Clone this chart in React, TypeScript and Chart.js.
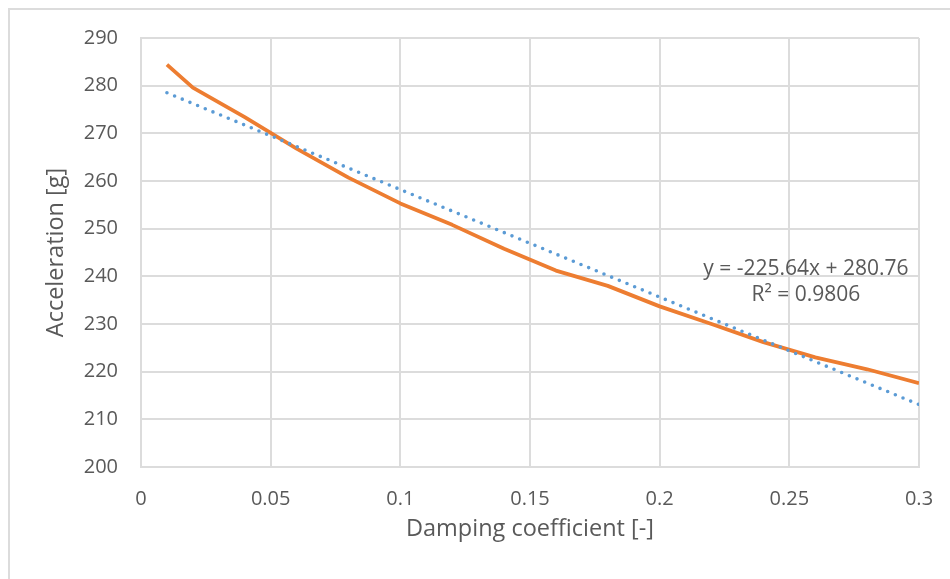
import React, { useEffect, useRef } from "react";
import { Chart, registerables } from "chart.js";

Chart.register(...registerables);

// ---- data ----
const dampingCoefficient = [0.01, 0.02, 0.04, 0.06, 0.08, 0.1, 0.12, 0.14, 0.16, 0.18, 0.2, 0.22, 0.24, 0.26, 0.28, 0.3];
const acceleration = [284.4, 279.6, 273.4, 266.8, 260.7, 255.3, 250.8, 245.8, 241.2, 238.0, 233.7, 230.0, 226.2, 223.0, 220.5, 217.6];
const trendX = [0.01, 0.3];
const trendY = [278.5, 213.1];
const xTicks = [0, 0.05, 0.1, 0.15, 0.2, 0.25, 0.3];
const xTickLabels = ["0", "0.05", "0.1", "0.15", "0.2", "0.25", "0.3"];
const yTicks = [200, 210, 220, 230, 240, 250, 260, 270, 280, 290];
const yTickLabels = ["200", "210", "220", "230", "240", "250", "260", "270", "280", "290"];
const equationLines = ["y = -225.64x + 280.76", "R\u00B2 = 0.9806"];
const xTitle = "Damping coefficient [-]";
const yTitle = "Acceleration [g]";

// ---- styles ----
const TEXT = "#595959";
const GRID = "#DCDCDC";
const FONT = "'Open Sans', sans-serif";
const EQ_ANCHOR = { x: 0.2564, y: 241.6 };

const equationPlugin = {
  id: "equationLabel",
  afterDatasetsDraw(chart: any) {
    const { ctx } = chart;
    const xs = chart.scales.x;
    const ys = chart.scales.y;
    const cx = xs.getPixelForValue(EQ_ANCHOR.x);
    const cy = ys.getPixelForValue(EQ_ANCHOR.y);
    ctx.save();
    ctx.font = `21px ${FONT}`;
    ctx.fillStyle = TEXT;
    ctx.textAlign = "center";
    ctx.textBaseline = "middle";
    equationLines.forEach((t, i) => ctx.fillText(t, cx, cy + i * 26));
    ctx.restore();
  },
};

const zeroPad = (s: any) => {
  s.paddingLeft = 0;
  s.paddingRight = 0;
  s.paddingTop = 0;
  s.paddingBottom = 0;
};

export default function App() {
  const ref = useRef<HTMLCanvasElement | null>(null);

  useEffect(() => {
    if (!ref.current) return;
    const chart = new Chart(ref.current, {
      type: "scatter",
      data: {
        datasets: [
          {
            label: "Linear trend",
            data: trendX.map((x, i) => ({ x, y: trendY[i] })),
            showLine: true,
            borderColor: "#5B9BD5",
            borderWidth: 3.6,
            borderDash: [0, 8.3],
            borderCapStyle: "round",
            pointRadius: 0,
            tension: 0,
            order: 0,
          },
          {
            label: "Acceleration",
            data: dampingCoefficient.map((x, i) => ({ x, y: acceleration[i] })),
            showLine: true,
            borderColor: "#ED7D31",
            borderWidth: 3.8,
            borderJoinStyle: "round",
            borderCapStyle: "butt",
            pointRadius: 0,
            tension: 0,
            order: 1,
          },
        ],
      },
      options: {
        animation: false,
        responsive: false,
        layout: { padding: { left: 0, top: 38, right: 31, bottom: 0 } },
        plugins: { legend: { display: false }, tooltip: { enabled: false } },
        scales: {
          x: {
            type: "linear",
            min: 0,
            max: 0.3,
            afterBuildTicks: (s: any) => {
              s.ticks = xTicks.map((v) => ({ value: v }));
            },
            afterFit: (s: any) => {
              s.height = 112;
              zeroPad(s);
            },
            ticks: {
              color: TEXT,
              font: { family: FONT, size: 20 },
              padding: 20,
              maxRotation: 0,
              callback: (v: any) => {
                const i = xTicks.findIndex((t) => Math.abs(t - Number(v)) < 1e-9);
                return i >= 0 ? xTickLabels[i] : "";
              },
            },
            grid: { color: GRID, lineWidth: 2, drawTicks: false },
            border: { color: GRID, width: 2 },
            title: {
              display: true,
              text: xTitle,
              color: TEXT,
              font: { family: FONT, size: 23.5 },
              padding: { top: 0, bottom: 36 },
            },
          },
          y: {
            type: "linear",
            min: 200,
            max: 290,
            afterBuildTicks: (s: any) => {
              s.ticks = yTicks.map((v) => ({ value: v }));
            },
            afterFit: (s: any) => {
              s.width = 141;
              zeroPad(s);
            },
            ticks: {
              color: TEXT,
              font: { family: FONT, size: 20 },
              padding: 23,
              callback: (v: any) => {
                const i = yTicks.findIndex((t) => Math.abs(t - Number(v)) < 1e-9);
                return i >= 0 ? yTickLabels[i] : "";
              },
            },
            grid: { color: GRID, lineWidth: 2, drawTicks: false },
            border: { color: GRID, width: 2 },
            title: {
              display: true,
              text: yTitle,
              color: TEXT,
              font: { family: FONT, size: 23.5 },
              padding: { top: 42, bottom: 0 },
            },
          },
        },
      },
      plugins: [equationPlugin],
    });
    return () => chart.destroy();
  }, []);

  return (
    <div
      style={{
        position: "fixed",
        left: 0,
        top: 0,
        width: 950,
        height: 579,
        background: "#fff",
        overflow: "hidden",
      }}
    >
      <div
        style={{
          position: "absolute",
          left: 8,
          top: 8,
          width: 1000,
          height: 700,
          border: "2px solid #DCDCDC",
          boxSizing: "border-box",
        }}
      />
      <canvas
        ref={ref}
        width={950}
        height={579}
        style={{ position: "absolute", left: 0, top: 0, width: 950, height: 579 }}
      />
    </div>
  );
}
